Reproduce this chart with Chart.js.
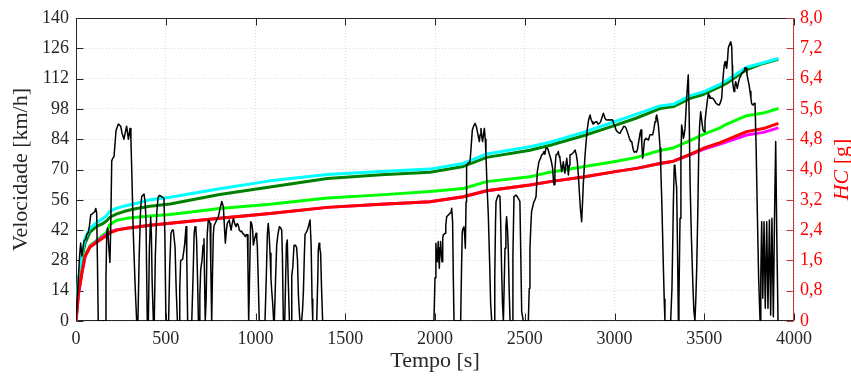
<!DOCTYPE html>
<html><head><meta charset="utf-8">
<script src="https://cdn.jsdelivr.net/npm/chart.js@4.4.1/dist/chart.umd.min.js"></script>
<style>html,body{margin:0;padding:0;background:#fff;}</style>
</head><body>
<canvas id="c" width="851" height="381"></canvas>
<script>
// ---- Speed trace (left axis, km/h) ----
const speedTime = [
0,20,26,33,40,45,55,60,69,75,82,90,97,104,110,115,119,124,
162,167,171,176,182,189,194,199,204,212,223,236,249,256,267,282,292,301,306,312,319,330,338,
345,352,360,366,379,385,390,397,
403,409,416,420,424,431,
436,442,450,457,464,477,490,495,501,
516,522,529,536,542,547,552,558,565,
574,578,583,594,600,606,613,617,622,
645,652,658,663,668,672,677,682,
686,690,695,702,708,713,716,720,
725,731,737,743,747,751,756,
760,765,769,780,793,803,812,821,826,832,838,843,854,859,864,870,877,884,891,898,904,910,917,923,929,936,943,950,955,958,962,
968,973,979,984,988,995,1003,1007,1010,1015,1021,
1053,1060,1066,1071,1076,1081,1086,1090,1096,1101,
1105,1112,1118,1125,1133,1140,1146,1150,1155,
1163,1168,1172,1177,1182,1189,
1199,1202,1208,1211,1215,1222,1229,1234,1239,1245,1248,
1257,1262,1267,1272,1276,1283,1289,1296,1304,1310,1315,1319,
1341,1347,1350,1354,1358,1363,1368,1374,
1994,2000,2005,2009,2013,2018,2024,2028,2031,2036,2039,2043,2046,2056,2060,2065,2074,2083,2089,2093,2098,2102,2106,
2143,2148,2152,2157,2161,2165,2169,2173,2176,2186,2195,2201,2208,2215,2223,2230,2236,2242,2247,2251,2256,2261,2265,2270,2275,2280,2284,2290,2297,2305,2310,2316,
2329,2333,2337,2340,2347,2353,2362,2366,2371,2376,2381,2385,2390,2395,2399,2404,2408,2413,2418,
2429,2434,2440,2451,2458,2464,2473,2478,2483,2492,
2520,2525,2529,2534,2538,2545,2551,2557,2563,2570,
2579,2587,2594,2600,2607,2612,2618,2625,2631,2637,
2644,2650,2655,2660,2663,2668,2674,2680,2687,2692,
2696,2701,2706,2710,2715,2720,2724,2729,2734,2738,
2743,2748,2752,2760,2767,2773,2780,2787,2793,2799,
2804,2810,2817,2822,2826,2831,2836,2842,2849,2856,
2864,2870,2875,2880,2886,2893,2901,2908,2916,2922,
2929,2938,2947,2953,2960,2968,2975,2982,2990,2996,
3003,3010,3016,3023,3031,3038,3046,3052,3059,3065,
3071,3077,3083,3090,3096,3100,3105,3110,3116,3122,
3127,3133,3138,3143,3148,3152,3157,3162,3166,3170,
3175,3182,3189,3194,3198,3206,3213,3220,3226,3231,
3235,3240,3244,3249,3254,3258,3263,3268,3272,3277,
3281,
3313,3320,3324,3328,3333,3337,3342,3346,3350,3356,
3359,3365,3370,3374,3379,3384,3388,3393,3400,3406,3411,3416,3421,3428,3436,3442,3448,
3453,3458,3464,3469,3474,3480,3484,3489,3494,3499,
3504,3510,3516,3523,3528,3532,3540,3547,3556,3566,
3575,3584,3590,3597,3601,3606,3611,3616,3620,3625,
3630,3634,3639,3643,3648,3653,3656,3658,3662,3666,
3670,3675,3680,3684,3690,3696,3702,3709,3715,3721,
3727,3733,3738,3744,3750,3755,3760,3764,3768,3773,
3778,3783,3789,3796,3803,3811,
3815,3820,3826,3833,3840,3848,3855,3863,3870,3877,3885,3891,3898,3904,3911
];
const speedValue = [
0,30,36,30,34,37,38,40,41,44,49,49.5,50,50.5,52,50,30,0,
0,20,40,43,35,27,45,74,75,76,88,91,90,87,84,90,84,89,84,65,41,15,0,
0,30,52,57.5,58.7,55,46.7,0,
0,34,48,40,19,0,
0,30,50,57,58,57.5,56.7,40,0,
0,25,40.5,42,42,38,34,15,0,
0,15,28,28.5,32,36,43.6,30,0,
0,20,40,43.6,42,37,20,0,
0,12,24,28,35,38,20,0,
10,40,46.7,46,45,25,0,
20,40,44,46,48.2,52,55.2,52.8,45,35.9,42,45.1,46.7,44,42,45,47.4,45,43.6,45,44.4,42,41.3,41.5,40.5,40,39,40,39.8,25,0,
25,45.9,45,42,35.1,38,40.5,38,35,20,0,
0,20,40,45.1,40,31.3,20,14.3,8,0,
0,20,35,40,43.6,43,42,30,0,
0,20,35,37.4,20,0,
0,21,25,30,35,35,34,28,12,3,0,
0,5,14,30,40,41,42,44,46.7,35,10,0,
0,20,33,35.9,34,31,15,0,
0,20,35.9,30,27.4,36.7,24.4,34,36.7,30,27.4,38,39.8,40.5,44,48.2,49,49.8,50,52.1,45.9,20,0,
0,25,41.3,43,43.6,40,33.6,55,72.1,73,73.6,80,88.3,90,91.3,90,87.5,85,82.9,86,89,85,82.9,86,89,84,76.7,62,49,25,8,0,
0,20,45,55.2,57,58.2,57.5,45,24.4,8,0,15,33.6,44,48.2,42,33.6,15,0,
0,30,57.5,58.2,57.5,56.7,55.2,30,4.3,0,
0,15,33.6,44,50.5,53,55.2,56,57.5,69,
73.6,75,76.7,77,78.3,77,79.8,80,79,77,
75.2,73,70.6,65,62.9,70,76.7,77,78.3,76,
75.2,72,69,71,73.6,70,68.3,72,75.2,72,
67.5,72,76.7,77,77.5,78,79,77,73.6,67,
59.8,52,45.9,55,62.9,70,76.7,83,89,93,
95.2,93,92.1,91,91.3,92,92.1,91,91.3,92,
93.7,96,93.7,93,92.9,93,92.9,93,92.9,91,
89.8,88,87.5,87,86.7,88,89,90,89.8,89,
87.5,86,84.4,83,82.9,81,79,78,78.3,78,
79,82,84.4,87,88.3,82,75.2,79,82.9,84,
84.4,84,83.6,85,86,86,86,89,92.1,94,
95.2,93,90.6,86,79.8,70,56.7,40,25.9,10,
0,
0,15,33.6,55,72,71.3,65,62,40,0,
10,47.5,75,90.6,88,84.4,86,89,100,108,113.7,95,64.4,40,18.2,5,0,
10,24.4,50,76.7,90,96.7,94,90.6,88,87.5,
92,96.7,101,105.2,104,102.9,103,102.9,102,100.6,
100,99.8,101,102.9,108,113.7,118,119.8,118,116.8,
121,126,127.5,128.3,129,126.8,118,110.6,108,106,
108,110.6,109,107.5,110,112.1,113,114.4,115,115.2,
117,116.8,114,111.4,109,106,103,100.6,100,99.8,
100.5,100.6,80,49,20,0,
20,45.9,10.5,45.9,5.9,45.9,5.9,46.7,2.8,47.5,2,45,82.9,40,0
];

// ---- Cumulative HC (right axis, g) ----
const hcTime = [0,13,32,50,78,115,152,170,189,227,282,338,412,524,800,1081,1400,1700,1972,2158,2288,2529,2641,2826,3012,3123,3253,3328,3421,3495,3588,3625,3736,3829,3913];
const hcCyan = [0,1.04,1.74,2.18,2.45,2.60,2.71,2.78,2.90,2.98,3.05,3.11,3.20,3.27,3.49,3.70,3.87,3.95,4.01,4.16,4.41,4.60,4.72,4.98,5.28,5.46,5.68,5.72,5.95,6.05,6.25,6.35,6.70,6.82,6.93];
const hcDarkGreen = [0,1.0,1.65,2.05,2.35,2.50,2.58,2.64,2.74,2.83,2.91,2.97,3.03,3.09,3.34,3.54,3.76,3.86,3.93,4.08,4.32,4.51,4.64,4.89,5.18,5.36,5.61,5.66,5.88,5.98,6.19,6.28,6.64,6.80,6.91];
const hcLime = [0,0.73,1.30,1.74,1.99,2.13,2.27,2.34,2.55,2.66,2.71,2.74,2.77,2.81,2.97,3.08,3.25,3.33,3.42,3.50,3.68,3.81,3.93,4.07,4.22,4.32,4.50,4.57,4.76,4.93,5.10,5.20,5.42,5.49,5.61];
const hcRed = [0,0.69,1.25,1.70,1.95,2.08,2.20,2.25,2.33,2.40,2.45,2.48,2.53,2.58,2.71,2.84,3.00,3.08,3.15,3.28,3.44,3.59,3.68,3.80,3.95,4.03,4.16,4.22,4.40,4.56,4.71,4.78,5.00,5.08,5.22];
const hcMagenta = [0,0.69,1.25,1.70,1.96,2.10,2.23,2.28,2.35,2.41,2.45,2.48,2.53,2.58,2.71,2.84,3.00,3.08,3.15,3.28,3.44,3.59,3.68,3.80,3.95,4.03,4.16,4.22,4.39,4.53,4.67,4.73,4.91,4.98,5.10];

// ---- Ticks ----
const xTicks = [0,500,1000,1500,2000,2500,3000,3500,4000];
const yTicks = [0,14,28,42,56,70,84,98,112,126,140];
const y1Ticks = [0,0.8,1.6,2.4,3.2,4.0,4.8,5.6,6.4,7.2,8.0];
const y1TickLabels = ['0','0,8','1,6','2,4','3,2','4,0','4,8','5,6','6,4','7,2','8,0'];

const FONT = "'Liberation Serif','Times New Roman',serif";
const AXIS = '#262626';
const RAXIS = '#c43a3a';

const pts = (xs, ys) => xs.map((t, i) => ({x: t, y: ys[i]}));

const framePlugin = {
  id: 'frame',
  beforeDatasetsDraw(chart) {
    const {ctx, chartArea: a, scales} = chart;
    const L = Math.round(a.left) + 0.5, R = Math.round(a.right) - 0.5;
    const T = Math.round(a.top) + 0.5, B = Math.round(a.bottom) - 0.5;
    const tl = 7;
    ctx.save();
    ctx.lineWidth = 1;
    ctx.strokeStyle = AXIS;
    ctx.beginPath();
    ctx.moveTo(L, T); ctx.lineTo(L, B); ctx.lineTo(R, B);
    ctx.moveTo(L, T); ctx.lineTo(R, T);
    xTicks.forEach(v => {
      const px = Math.round(scales.x.getPixelForValue(v)) + 0.5;
      ctx.moveTo(px, B); ctx.lineTo(px, B - tl);
      ctx.moveTo(px, T); ctx.lineTo(px, T + tl);
    });
    yTicks.forEach(v => {
      const py = Math.round(scales.y.getPixelForValue(v)) + 0.5;
      ctx.moveTo(L, py); ctx.lineTo(L + tl, py);
    });
    ctx.stroke();
    ctx.strokeStyle = RAXIS;
    ctx.beginPath();
    ctx.moveTo(R, T - 0.5); ctx.lineTo(R, B + 0.5);
    y1Ticks.forEach(v => {
      const py = Math.round(scales.y1.getPixelForValue(v)) + 0.5;
      ctx.moveTo(R, py); ctx.lineTo(R - tl, py);
    });
    ctx.stroke();
    ctx.restore();
  },
  afterDraw(chart) {
    const {ctx, chartArea: a} = chart;
    const cy = (a.top + a.bottom) / 2;
    ctx.save();
    ctx.translate(842, cy);
    ctx.rotate(-Math.PI / 2);
    ctx.fillStyle = '#ff0000';
    ctx.textBaseline = 'middle';
    ctx.textAlign = 'left';
    const f1 = "italic 22px " + FONT, f2 = "22px " + FONT;
    ctx.font = f1; const w1 = ctx.measureText('HC').width;
    ctx.font = f2; const w2 = ctx.measureText(' [g]').width;
    const x0 = -(w1 + w2) / 2;
    ctx.font = f1; ctx.fillText('HC', x0, 0);
    ctx.font = f2; ctx.fillText(' [g]', x0 + w1, 0);
    ctx.restore();
  }
};

const lineDs = (label, data, color, width, axis) => ({
  label, data, borderColor: color, backgroundColor: color, borderWidth: width,
  pointRadius: 0, tension: 0, fill: false, yAxisID: axis, borderJoinStyle: 'round'
});

new Chart(document.getElementById('c'), {
  type: 'line',
  data: {
    datasets: [
      lineDs('Velocidade', pts(speedTime, speedValue), '#000000', 1.5, 'y'),
      lineDs('HC 5', pts(hcTime, hcRed), '#ff0000', 3, 'y1'),
      lineDs('HC 4', pts(hcTime, hcMagenta), '#ff00ff', 3, 'y1'),
      lineDs('HC 3', pts(hcTime, hcLime), '#00ff00', 3, 'y1'),
      lineDs('HC 1', pts(hcTime, hcCyan), '#00ffff', 3, 'y1'),
      lineDs('HC 2', pts(hcTime, hcDarkGreen), '#008000', 3, 'y1')
    ]
  },
  options: {
    responsive: false,
    animation: false,
    devicePixelRatio: 1,
    layout: {padding: {top: 18, left: 0, right: 0, bottom: 0}},
    plugins: {legend: {display: false}, tooltip: {enabled: false}},
    scales: {
      x: {
        type: 'linear', position: 'bottom', min: 0, max: 4000,
        afterBuildTicks: s => { s.ticks = xTicks.map(v => ({value: v})); },
        afterFit: s => { s.height = 60; },
        ticks: {autoSkip: false, maxRotation: 0, padding: 7, color: AXIS,
          font: {family: FONT, size: 18}, callback: v => String(v)},
        grid: {color: '#dcdcdc', lineWidth: 1, drawTicks: false},
        border: {display: false, dash: [1, 2]},
        title: {display: true, text: 'Tempo [s]', color: AXIS,
          font: {family: FONT, size: 22, lineHeight: 1}, padding: {top: 0, bottom: 9}}
      },
      y: {
        type: 'linear', position: 'left', min: 0, max: 140,
        afterBuildTicks: s => { s.ticks = yTicks.map(v => ({value: v})); },
        afterFit: s => { s.width = 76; },
        ticks: {padding: 7, color: AXIS, font: {family: FONT, size: 18}, callback: v => String(v)},
        grid: {color: '#dcdcdc', lineWidth: 1, drawTicks: false},
        border: {display: false, dash: [1, 2]},
        title: {display: true, text: 'Velocidade [km/h]', color: AXIS,
          font: {family: FONT, size: 22, lineHeight: 1}, padding: {top: 10.5, bottom: 0}}
      },
      y1: {
        type: 'linear', position: 'right', min: 0, max: 8,
        afterBuildTicks: s => { s.ticks = y1Ticks.map(v => ({value: v})); },
        afterFit: s => { s.width = 57; },
        ticks: {padding: 6, color: '#ff0000', font: {family: FONT, size: 18},
          callback: (v, i) => y1TickLabels[i]},
        grid: {drawOnChartArea: false, drawTicks: false},
        border: {display: false}
      }
    }
  },
  plugins: [framePlugin]
});
</script>
</body></html>
